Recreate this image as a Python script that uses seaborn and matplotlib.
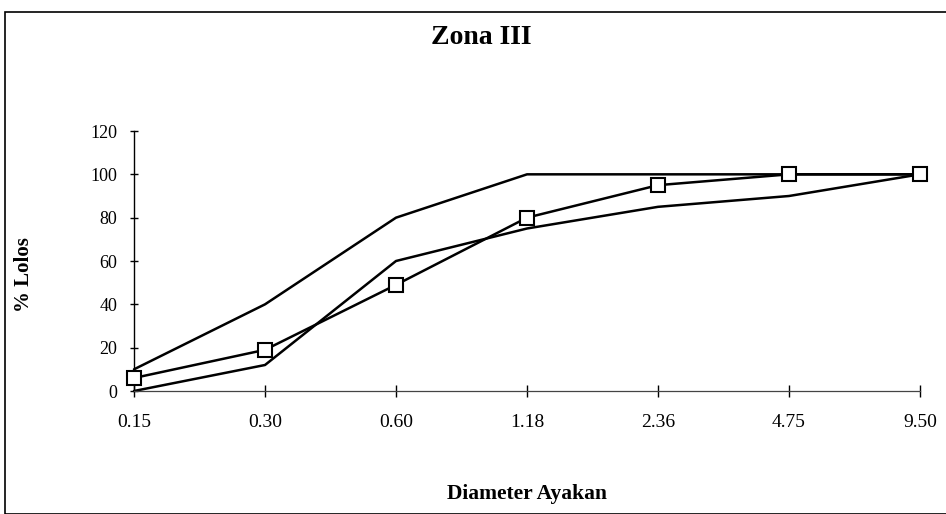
import matplotlib
matplotlib.use("Agg")
import matplotlib.pyplot as plt
import seaborn as sns
import pandas as pd
from matplotlib.patches import Rectangle

sizes = ["0.15", "0.30", "0.60", "1.18", "2.36", "4.75", "9.50"]
upper = [10, 40, 80, 100, 100, 100, 100]
lower = [0, 12, 60, 75, 85, 90, 100]
actual = [6, 19, 49, 80, 95, 100, 100]
yticks = [0, 20, 40, 60, 80, 100, 120]

sns.set_theme(style="white")
plt.rcParams["font.family"] = ["Liberation Serif", "DejaVu Serif"]

fig = plt.figure(figsize=(9.46, 5.14), dpi=100)
ax = fig.add_axes([134/946, 1-391/514, (920-134)/946, (391-131)/514])

df = pd.DataFrame({"size": sizes, "upper": upper, "lower": lower, "actual": actual})
sns.lineplot(data=df, x="size", y="upper", ax=ax, color="black", lw=1.8, sort=False)
sns.lineplot(data=df, x="size", y="lower", ax=ax, color="black", lw=1.8, sort=False)
sns.lineplot(data=df, x="size", y="actual", ax=ax, color="black", lw=1.8, sort=False,
             marker="s", markersize=10, markerfacecolor="white",
             markeredgecolor="black", markeredgewidth=1.5, zorder=5)

ax.set_xlim(0, len(sizes) - 1)
ax.set_ylim(0, 120)
ax.set_yticks(yticks)
ax.set_yticklabels([str(v) for v in yticks])
ax.set_xticks(range(len(sizes)))
ax.set_xticklabels(sizes)
for sp in ["top", "right"]:
    ax.spines[sp].set_visible(False)
ax.spines["left"].set_color("black")
ax.spines["left"].set_linewidth(1.0)
ax.spines["bottom"].set_color("#444444")
ax.spines["bottom"].set_linewidth(0.9)
ax.tick_params(axis="both", bottom=True, left=True, direction="inout", width=1,
               color="black", labelcolor="black")
ax.tick_params(axis="y", length=6, pad=9, labelsize=13)
ax.tick_params(axis="x", length=9, pad=12, labelsize=14)
for l in ax.lines:
    l.set_clip_on(False)

ax.set_xlabel("")
ax.set_ylabel("")
fig.text(481/946, 1-37/514, "Zona III", ha="center", va="center", fontsize=20,
         fontweight="bold", color="black")
fig.text(527/946, 1-494/514, "Diameter Ayakan", ha="center", va="center", fontsize=15.5,
         fontweight="bold", color="black")
fig.text(24/946, 1-275/514, "% Lolos", ha="center", va="center", fontsize=15,
         fontweight="bold", color="black", rotation=90)

fig.patches.append(Rectangle((5/946, 0), 1.2, 1-12/514, transform=fig.transFigure,
                             fill=False, edgecolor="black", lw=1.2))

fig.savefig("out.png", dpi=100)
